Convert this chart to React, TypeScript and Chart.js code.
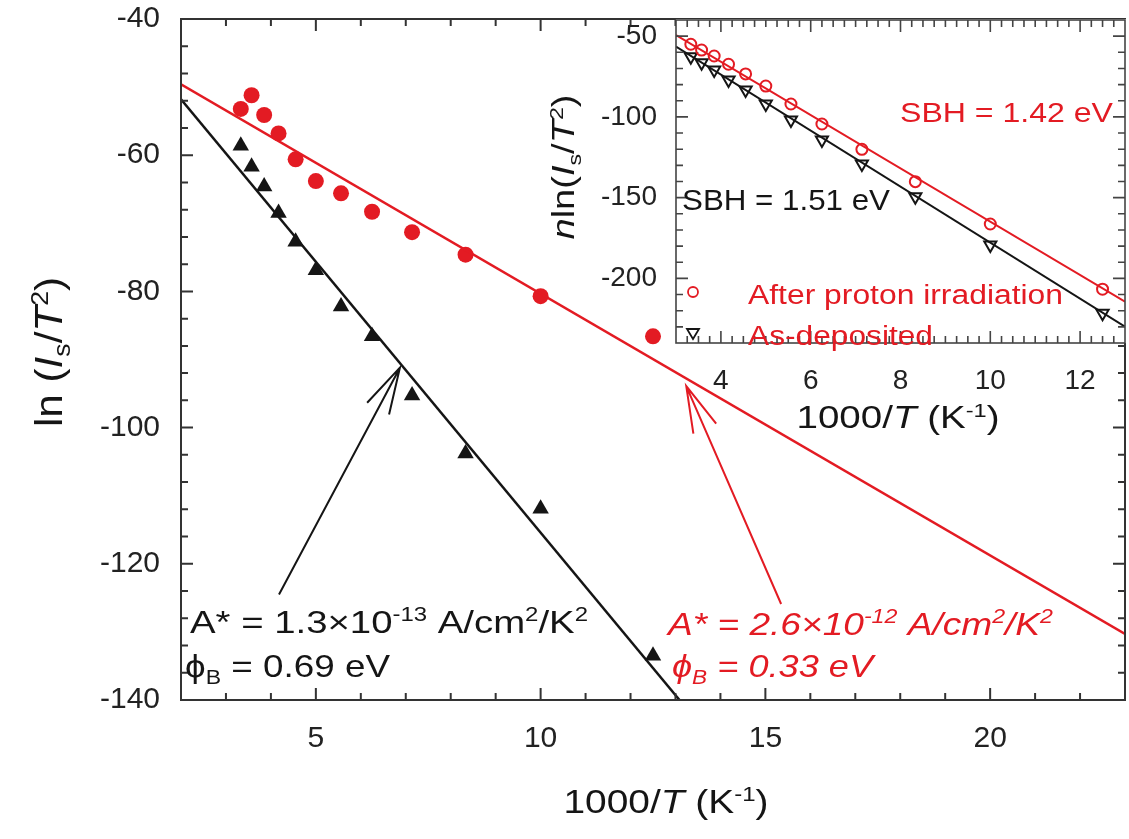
import React, { useEffect, useRef } from "react";
import { Chart, registerables } from "chart.js";

Chart.register(...registerables);

// ---------- data ----------
const invT = [3.33, 3.57, 3.85, 4.17, 4.55, 5.0, 5.56, 6.25, 7.14, 8.33, 10.0, 12.5];
const mainRed = [-53.2, -51.2, -54.1, -56.8, -60.6, -63.8, -65.6, -68.3, -71.3, -74.6, -80.7, -86.6];
const mainBlack = [-58.6, -61.7, -64.6, -68.5, -72.7, -76.9, -82.2, -86.6, -95.3, -103.8, -111.9, -133.5];
const mainRedFitX = [2, 23];
const mainRedFitY = [-49.6, -130.3];
const mainBlackFitX = [2, 13.09];
const mainBlackFitY = [-51.8, -140];

const insetRed = [-55.0, -58.6, -62.3, -67.4, -73.4, -80.9, -92.0, -104.4, -120.1, -140.1, -166.3, -206.7];
const insetBlack = [-62.7, -66.4, -71.0, -77.2, -83.3, -92.0, -101.9, -114.3, -129.2, -149.4, -179.3, -221.6];
const insetRedFitX = [3, 13];
const insetRedFitY = [-49.3, -214.4];
const insetBlackFitX = [3, 13];
const insetBlackFitY = [-56.5, -229.9];

const mainXTicks = [5, 10, 15, 20];
const mainYTicks = [-140, -120, -100, -80, -60, -40];
const insetXTicks = [4, 6, 8, 10, 12];
const insetYTicks = [-200, -150, -100, -50];

// arrows: [tailX, tailY, tipX, tipY] in data units
const arrowBlack = [4.18, -124.5, 6.87, -91.2];
const arrowRed = [15.35, -125.9, 13.24, -93.9];

// ---------- styling ----------
const FONT = '"Liberation Sans", Arial, Helvetica, sans-serif';
const RED = "#e31b23";
const BLACK = "#151515";
const AXIS = "#333333";

type Run = { t: string; it?: boolean; sub?: boolean; sup?: boolean };
type RichOpts = {
  size: number;
  color: string;
  align?: "left" | "center";
  width?: number;
  stretch?: number;
  rotate?: number;
  italic?: boolean;
};

function drawRich(ctx: CanvasRenderingContext2D, runs: Run[], x: number, y: number, o: RichOpts) {
  ctx.save();
  const fontFor = (r: Run) =>
    `${r.it || o.italic ? "italic " : ""}${r.sub || r.sup ? Math.round(o.size * 0.62) : o.size}px ${FONT}`;
  let W = 0;
  const widths = runs.map((r) => {
    ctx.font = fontFor(r);
    const w = ctx.measureText(r.t).width;
    W += w;
    return w;
  });
  const sx = o.width ? o.width / W : o.stretch ?? 1;
  ctx.translate(x, y);
  if (o.rotate) ctx.rotate(o.rotate);
  ctx.scale(sx, 1);
  ctx.fillStyle = o.color;
  ctx.textBaseline = "alphabetic";
  ctx.textAlign = "left";
  let cx = o.align === "center" ? -W / 2 : 0;
  runs.forEach((r, i) => {
    ctx.font = fontFor(r);
    const dy = r.sup ? -o.size * 0.36 : r.sub ? o.size * 0.22 : 0;
    ctx.fillText(r.t, cx, dy);
    cx += widths[i];
  });
  ctx.restore();
}

function drawArrow(chart: any, a: number[], color: string) {
  const { ctx, scales } = chart;
  const x0 = scales.x.getPixelForValue(a[0]);
  const y0 = scales.y.getPixelForValue(a[1]);
  const x1 = scales.x.getPixelForValue(a[2]);
  const y1 = scales.y.getPixelForValue(a[3]);
  const ang = Math.atan2(y0 - y1, x0 - x1);
  const L = 48;
  const spread = (15 * Math.PI) / 180;
  ctx.save();
  ctx.strokeStyle = color;
  ctx.lineWidth = 2;
  ctx.beginPath();
  ctx.moveTo(x0, y0);
  ctx.lineTo(x1, y1);
  ctx.moveTo(x1 + L * Math.cos(ang - spread), y1 + L * Math.sin(ang - spread));
  ctx.lineTo(x1, y1);
  ctx.lineTo(x1 + L * Math.cos(ang + spread), y1 + L * Math.sin(ang + spread));
  ctx.stroke();
  ctx.restore();
}

type FrameCfg = {
  xStep: number;
  yStep: number;
  xMajor: number[];
  yMajor: number[];
  majorLen: number;
  minorLen: number;
  lw: number;
  color: string;
};

function drawFrame(chart: any, f: FrameCfg) {
  const { ctx, chartArea: a, scales } = chart;
  const xs = scales.x;
  const ys = scales.y;
  ctx.save();
  ctx.strokeStyle = f.color;
  ctx.lineWidth = f.lw;
  ctx.beginPath();
  const nx = Math.round((xs.max - xs.min) / f.xStep);
  for (let i = 1; i < nx; i++) {
    const v = xs.min + i * f.xStep;
    const major = f.xMajor.some((m) => Math.abs(m - v) < 1e-6);
    const len = major ? f.majorLen : f.minorLen;
    const px = xs.getPixelForValue(v);
    ctx.moveTo(px, a.bottom);
    ctx.lineTo(px, a.bottom - len);
    ctx.moveTo(px, a.top);
    ctx.lineTo(px, a.top + len);
  }
  const ny = Math.round((ys.max - ys.min) / f.yStep);
  for (let i = 1; i < ny; i++) {
    const v = ys.min + i * f.yStep;
    const major = f.yMajor.some((m) => Math.abs(m - v) < 1e-6);
    const len = major ? f.majorLen : f.minorLen;
    const py = ys.getPixelForValue(v);
    ctx.moveTo(a.left, py);
    ctx.lineTo(a.left + len, py);
    ctx.moveTo(a.right, py);
    ctx.lineTo(a.right - len, py);
  }
  ctx.stroke();
  ctx.strokeRect(a.left, a.top, a.right - a.left, a.bottom - a.top);
  ctx.restore();
}

const pts = (xs: number[], ys: number[]) => xs.map((x, i) => ({ x, y: ys[i] }));

function axisTitleRuns(): Run[] {
  return [{ t: "1000/" }, { t: "T", it: true }, { t: " (K" }, { t: "-1", sup: true }, { t: ")" }];
}

const zeroPad = (s: any) => {
  s.paddingTop = 0;
  s.paddingBottom = 0;
  s.paddingLeft = 0;
  s.paddingRight = 0;
};

export default function App() {
  const mainRef = useRef<HTMLCanvasElement | null>(null);
  const insetRef = useRef<HTMLCanvasElement | null>(null);

  useEffect(() => {
    if (!mainRef.current || !insetRef.current) return;

    const mainPlugin = {
      id: "mainDeco",
      beforeDraw(chart: any) {
        const c = chart.ctx;
        c.save();
        c.fillStyle = "#ffffff";
        c.fillRect(0, 0, chart.width, chart.height);
        c.restore();
      },
      afterDraw(chart: any) {
        const ctx = chart.ctx as CanvasRenderingContext2D;
        drawFrame(chart, {
          xStep: 1,
          yStep: 4,
          xMajor: mainXTicks,
          yMajor: mainYTicks,
          majorLen: 12,
          minorLen: 7,
          lw: 2,
          color: AXIS,
        });
        drawArrow(chart, arrowBlack, BLACK);
        drawArrow(chart, arrowRed, RED);
        // axis titles
        drawRich(
          ctx,
          [{ t: "ln (" }, { t: "I", it: true }, { t: "s", sub: true }, { t: "/" }, { t: "T", it: true }, { t: "2", sup: true }, { t: ")" }],
          62,
          352,
          { size: 38, color: BLACK, align: "center", width: 150, rotate: -Math.PI / 2 }
        );
        drawRich(ctx, axisTitleRuns(), 666, 813, { size: 34, color: BLACK, align: "center", width: 205 });
        // black annotation
        drawRich(
          ctx,
          [{ t: "A* = 1.3×10" }, { t: "-13", sup: true }, { t: " A/cm" }, { t: "2", sup: true }, { t: "/K" }, { t: "2", sup: true }],
          190,
          633,
          { size: 32, color: BLACK, width: 398 }
        );
        drawRich(ctx, [{ t: "ϕ" }, { t: "B", sub: true }, { t: " = 0.69 eV" }], 185, 677, { size: 32, color: BLACK, width: 205 });
        // red annotation
        drawRich(
          ctx,
          [{ t: "A* = 2.6×10" }, { t: "-12", sup: true }, { t: " A/cm" }, { t: "2", sup: true }, { t: "/K" }, { t: "2", sup: true }],
          668,
          635,
          { size: 32, color: RED, width: 385, italic: true }
        );
        drawRich(ctx, [{ t: "ϕ" }, { t: "B", sub: true }, { t: " = 0.33 eV" }], 672, 677, { size: 32, color: RED, width: 201, italic: true });
      },
    };

    const main = new Chart(mainRef.current, {
      type: "scatter",
      data: {
        datasets: [
          {
            data: pts(mainRedFitX, mainRedFitY),
            showLine: true,
            borderColor: RED,
            borderWidth: 2.5,
            pointRadius: 0,
            tension: 0,
          },
          {
            data: pts(mainBlackFitX, mainBlackFitY),
            showLine: true,
            borderColor: BLACK,
            borderWidth: 2.5,
            pointRadius: 0,
            tension: 0,
          },
          {
            data: pts(invT, mainRed),
            showLine: false,
            pointStyle: "circle",
            pointRadius: 8,
            pointBackgroundColor: RED,
            pointBorderColor: RED,
            pointBorderWidth: 0,
          },
          {
            data: pts(invT, mainBlack),
            showLine: false,
            pointStyle: "triangle",
            pointRadius: 9.5,
            pointBackgroundColor: BLACK,
            pointBorderColor: BLACK,
            pointBorderWidth: 0,
          },
        ],
      } as any,
      options: {
        responsive: false,
        maintainAspectRatio: false,
        animation: false,
        events: [],
        layout: { autoPadding: false, padding: { top: 19, right: 4, left: 0, bottom: 0 } },
        plugins: { legend: { display: false }, tooltip: { enabled: false } },
        scales: {
          x: {
            type: "linear",
            min: 2,
            max: 23,
            grid: { display: false, drawTicks: false },
            border: { display: false },
            ticks: { font: { family: FONT, size: 30 }, color: "#222", padding: 21, maxRotation: 0, autoSkip: false },
            afterBuildTicks: (s: any) => {
              s.ticks = mainXTicks.map((v) => ({ value: v }));
            },
            afterFit: (s: any) => {
              s.height = 139;
              zeroPad(s);
            },
          },
          y: {
            type: "linear",
            min: -140,
            max: -40,
            grid: { display: false, drawTicks: false },
            border: { display: false },
            ticks: { font: { family: FONT, size: 30 }, color: "#222", padding: 21, autoSkip: false },
            afterBuildTicks: (s: any) => {
              s.ticks = mainYTicks.map((v) => ({ value: v }));
            },
            afterFit: (s: any) => {
              s.width = 181;
              zeroPad(s);
            },
          },
        },
      } as any,
      plugins: [mainPlugin],
    });

    const insetPlugin = {
      id: "insetDeco",
      beforeDraw(chart: any) {
        const c = chart.ctx;
        const a = chart.chartArea;
        c.save();
        c.fillStyle = "#ffffff";
        c.fillRect(a.left, a.top - 1, a.right - a.left + 4, a.bottom - a.top + 1);
        c.restore();
      },
      afterDraw(chart: any) {
        const ctx = chart.ctx as CanvasRenderingContext2D;
        drawFrame(chart, {
          xStep: 0.25,
          yStep: 10,
          xMajor: insetXTicks,
          yMajor: insetYTicks,
          majorLen: 12,
          minorLen: 7,
          lw: 1.6,
          color: "#444",
        });
        drawRich(ctx, [{ t: "SBH = 1.42 eV" }], 380, 122, { size: 28, color: RED, width: 213 });
        drawRich(ctx, [{ t: "SBH = 1.51 eV" }], 162, 210, { size: 29, color: BLACK, width: 208 });
        // legend
        ctx.save();
        ctx.lineWidth = 1.8;
        ctx.strokeStyle = RED;
        ctx.beginPath();
        ctx.arc(173, 292, 5, 0, Math.PI * 2);
        ctx.stroke();
        ctx.strokeStyle = BLACK;
        ctx.beginPath();
        ctx.moveTo(167, 329);
        ctx.lineTo(179, 329);
        ctx.lineTo(173, 339);
        ctx.closePath();
        ctx.stroke();
        ctx.restore();
        drawRich(ctx, [{ t: "After proton irradiation" }], 228, 304, { size: 27, color: RED, width: 315 });
        drawRich(ctx, [{ t: "As-deposited" }], 228, 345, { size: 27, color: RED, width: 185 });
        // titles
        drawRich(ctx, axisTitleRuns(), 378, 428, { size: 31, color: BLACK, align: "center", width: 203 });
        drawRich(
          ctx,
          [{ t: "n", it: true }, { t: "ln(" }, { t: "I", it: true }, { t: "s", sub: true }, { t: "/" }, { t: "T", it: true }, { t: "2", sup: true }, { t: ")" }],
          54,
          167,
          { size: 31, color: BLACK, align: "center", width: 145, rotate: -Math.PI / 2 }
        );
      },
    };

    const inset = new Chart(insetRef.current, {
      type: "scatter",
      data: {
        datasets: [
          {
            data: pts(insetRedFitX, insetRedFitY),
            showLine: true,
            borderColor: RED,
            borderWidth: 2,
            pointRadius: 0,
            tension: 0,
          },
          {
            data: pts(insetBlackFitX, insetBlackFitY),
            showLine: true,
            borderColor: BLACK,
            borderWidth: 2,
            pointRadius: 0,
            tension: 0,
          },
          {
            data: pts(invT, insetRed),
            showLine: false,
            pointStyle: "circle",
            pointRadius: 5.5,
            pointBackgroundColor: "rgba(255,255,255,0)",
            pointBorderColor: RED,
            pointBorderWidth: 2,
          },
          {
            data: pts(invT, insetBlack),
            showLine: false,
            pointStyle: "triangle",
            pointRotation: 180,
            pointRadius: 7,
            pointBackgroundColor: "rgba(255,255,255,0)",
            pointBorderColor: BLACK,
            pointBorderWidth: 2,
          },
        ],
      } as any,
      options: {
        responsive: false,
        maintainAspectRatio: false,
        animation: false,
        events: [],
        layout: { autoPadding: false, padding: { top: 20, right: 4, left: 0, bottom: 0 } },
        plugins: { legend: { display: false }, tooltip: { enabled: false } },
        scales: {
          x: {
            type: "linear",
            min: 3,
            max: 13,
            grid: { display: false, drawTicks: false },
            border: { display: false },
            ticks: { font: { family: FONT, size: 28 }, color: "#222", padding: 21, maxRotation: 0, autoSkip: false },
            afterBuildTicks: (s: any) => {
              s.ticks = insetXTicks.map((v) => ({ value: v }));
            },
            afterFit: (s: any) => {
              s.height = 107;
              zeroPad(s);
            },
          },
          y: {
            type: "linear",
            min: -240,
            max: -40,
            grid: { display: false, drawTicks: false },
            border: { display: false },
            ticks: { font: { family: FONT, size: 28 }, color: "#222", padding: 19, autoSkip: false },
            afterBuildTicks: (s: any) => {
              s.ticks = insetYTicks.map((v) => ({ value: v }));
            },
            afterFit: (s: any) => {
              s.width = 156;
              zeroPad(s);
            },
          },
        },
      } as any,
      plugins: [insetPlugin],
    });

    return () => {
      main.destroy();
      inset.destroy();
    };
  }, []);

  return (
    <div style={{ position: "absolute", left: 0, top: 0, width: 1129, height: 839, background: "#fff", overflow: "hidden" }}>
      <canvas ref={mainRef} width={1129} height={839} style={{ position: "absolute", left: 0, top: 0 }} />
      <canvas ref={insetRef} width={609} height={450} style={{ position: "absolute", left: 520, top: 0 }} />
    </div>
  );
}
